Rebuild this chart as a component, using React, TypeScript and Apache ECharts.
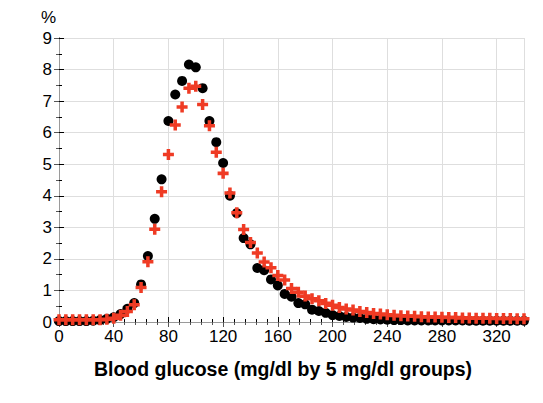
import React, { useEffect, useRef } from "react";
import * as echarts from "echarts";

const glucose: number[] = [];
for (let g = 0; g <= 340; g += 5) glucose.push(g);

// Black circles (%)
const seriesA: number[] = [
  0.03, 0.03, 0.03, 0.03, 0.03, 0.04, 0.06, 0.1, 0.15, 0.25,
  0.42, 0.6, 1.19, 2.09, 3.27, 4.52, 6.37, 7.21, 7.64, 8.16,
  8.07, 7.41, 6.37, 5.7, 5.04, 4.0, 3.45, 2.66, 2.46, 1.71,
  1.64, 1.35, 1.16, 0.89, 0.8, 0.6, 0.56, 0.39, 0.35, 0.29,
  0.22, 0.19, 0.16, 0.14, 0.13, 0.1, 0.09, 0.08, 0.07, 0.06,
  0.06, 0.05, 0.05, 0.05, 0.05, 0.05, 0.05, 0.05, 0.05, 0.05,
  0.04, 0.04, 0.04, 0.04, 0.04, 0.04, 0.04, 0.04, 0.04,
];

// Red crosses (%)
const seriesB: number[] = [
  0.07, 0.07, 0.07, 0.07, 0.07, 0.07, 0.07, 0.09, 0.12, 0.21,
  0.33, 0.55, 1.09, 1.91, 2.94, 4.13, 5.31, 6.24, 6.81, 7.41,
  7.47, 6.89, 6.22, 5.38, 4.71, 4.09, 3.46, 2.93, 2.52, 2.19,
  1.9, 1.72, 1.47, 1.33, 1.06, 0.94, 0.82, 0.74, 0.67, 0.59,
  0.53, 0.46, 0.41, 0.38, 0.33, 0.3, 0.27, 0.25, 0.23, 0.21,
  0.2, 0.19, 0.18, 0.17, 0.16, 0.16, 0.15, 0.14, 0.14, 0.13,
  0.13, 0.12, 0.12, 0.12, 0.11, 0.11, 0.11, 0.1, 0.1,
];

const xTitle = "Blood glucose (mg/dl by 5 mg/dl groups)";
const yUnit = "%";

const FONT = "'Liberation Sans', Arial, sans-serif";
const RED = "#ef3b24";
const CROSS = "path://M3.4,0H6.6V3.4H10V6.6H6.6V10H3.4V6.6H0V3.4H3.4Z";

export default function App() {
  const ref = useRef<HTMLDivElement>(null);
  useEffect(() => {
    if (!ref.current) return;
    const chart = echarts.init(ref.current, undefined, { renderer: "svg" });
    const dataA = glucose.map((g, i) => [g, seriesA[i]]);
    const dataB = glucose.map((g, i) => [g, seriesB[i]]);
    chart.setOption({
      animation: false,
      backgroundColor: "#fff",
      textStyle: { fontFamily: FONT },
      grid: { left: 59, right: 19, top: 38, bottom: 81 },
      xAxis: [
        {
          type: "value",
          min: 0,
          max: 340,
          interval: 40,
          position: "bottom",
          axisLine: { lineStyle: { color: "#000", width: 1 } },
          axisTick: { inside: true, length: 5, lineStyle: { color: "#000" } },
          minorTick: { show: true, splitNumber: 5, length: 3, lineStyle: { color: "#000" } },
          axisLabel: { fontSize: 17, color: "#000", margin: 6, showMaxLabel: false, fontFamily: FONT },
          splitLine: { show: true, lineStyle: { color: "#dedede", width: 1 } },
        },
        {
          type: "value",
          min: 0,
          max: 340,
          interval: 40,
          position: "top",
          axisLine: { show: true, lineStyle: { color: "#9a9a9a", width: 1 } },
          axisTick: { inside: true, length: 5, lineStyle: { color: "#555" } },
          minorTick: { show: true, splitNumber: 5, length: 3, lineStyle: { color: "#555" } },
          axisLabel: { show: false },
          splitLine: { show: false },
        },
      ],
      yAxis: [
        {
          type: "value",
          min: 0,
          max: 9,
          interval: 1,
          position: "left",
          axisLine: { show: true, lineStyle: { color: "#000", width: 1 } },
          axisTick: { show: true, inside: true, length: 5, lineStyle: { color: "#000" } },
          minorTick: { show: true, splitNumber: 2, length: 3, lineStyle: { color: "#000" } },
          axisLabel: { fontSize: 17, color: "#000", margin: 7, fontFamily: FONT },
          splitLine: { show: true, lineStyle: { color: "#dedede", width: 1 } },
        },
        {
          type: "value",
          min: 0,
          max: 9,
          interval: 1,
          position: "right",
          axisLine: { show: true, lineStyle: { color: "#9a9a9a", width: 1 } },
          axisTick: { show: true, inside: true, length: 5, lineStyle: { color: "#555" } },
          minorTick: { show: true, splitNumber: 2, length: 3, lineStyle: { color: "#555" } },
          axisLabel: { show: false },
          splitLine: { show: false },
        },
      ],
      series: [
        {
          type: "scatter",
          data: dataA,
          symbol: "circle",
          symbolSize: 10,
          itemStyle: { color: "#000", opacity: 1 },
        },
        {
          type: "scatter",
          data: dataB,
          symbol: CROSS,
          symbolSize: 11,
          itemStyle: { color: RED, opacity: 1 },
        },
      ],
      graphic: [
        {
          type: "text",
          left: 41,
          top: 9,
          style: { text: yUnit, fontSize: 17, fill: "#000", fontFamily: FONT },
        },
        {
          type: "text",
          x: 283,
          y: 369,
          style: {
            text: xTitle,
            fontSize: 19.5,
            fontWeight: "bold",
            fill: "#000",
            fontFamily: FONT,
            align: "center",
            verticalAlign: "middle",
          },
        },
      ],
    });
    return () => chart.dispose();
  }, []);
  return (
    <div
      ref={ref}
      style={{ position: "fixed", left: 0, top: 0, width: 543, height: 403 }}
    />
  );
}
